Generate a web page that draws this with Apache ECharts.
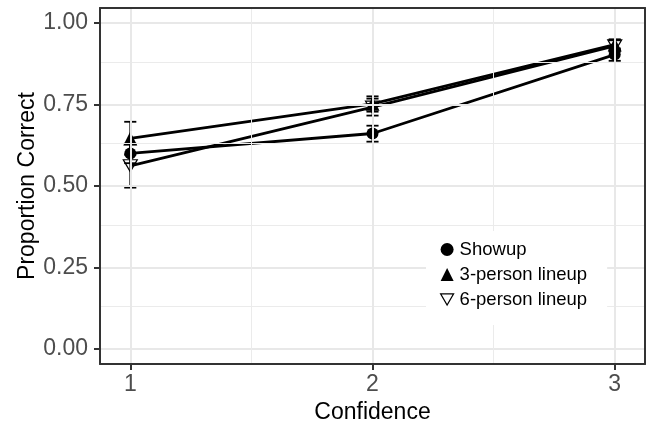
<!DOCTYPE html>
<html>
<head>
<meta charset="utf-8">
<script src="https://cdn.jsdelivr.net/npm/echarts@6/dist/echarts.min.js"></script>
<style>
  html, body { margin: 0; padding: 0; background: #fff; }
  #chart { width: 648px; height: 421px; }
</style>
</head>
<body>
<div id="chart"></div>
<script>
// Confidence levels on the x axis
const confidence = [1, 2, 3];

// Mean proportion correct per lineup type
const showupMean = [0.600, 0.661, 0.903];
const threeMean  = [0.646, 0.752, 0.934];
const sixMean    = [0.562, 0.742, 0.930];

// Error bar bounds (lower / upper)
const showupLow  = [0.570, 0.636, 0.884];
const showupHigh = [0.630, 0.685, 0.922];
const threeLow   = [0.596, 0.728, 0.918];
const threeHigh  = [0.697, 0.775, 0.950];
const sixLow     = [0.495, 0.716, 0.912];
const sixHigh    = [0.628, 0.768, 0.947];

// Axis breaks
const yBreaks = [0, 0.25, 0.5, 0.75, 1];
const yMinorBreaks = [0.125, 0.375, 0.625, 0.875];
const xBreaks = [1, 2, 3];
const xMinorBreaks = [1.5, 2.5];

const FONT = "'Liberation Sans', Arial, Helvetica, sans-serif";
const CAP_HALF = 0.025;          // half width of error bar caps, in x units
const DOWN_TRI = 'path://M0,0L20,0L10,17.32Z';
const X_MIN = 0.875, X_MAX = 3.125;
const Y_MIN = -0.046, Y_MAX = 1.046;

function pairs(xs, ys) { return xs.map((x, i) => [x, ys[i]]); }
function bars(xs, lo, hi) { return xs.map((x, i) => [x, lo[i], hi[i]]); }

function errorBarSeries(name, data) {
  return {
    type: 'custom',
    name: name + ' error',
    z: 3,
    silent: true,
    data: data,
    encode: { x: 0, y: [1, 2] },
    renderItem: function (params, api) {
      const x = api.value(0), lo = api.value(1), hi = api.value(2);
      const pLo = api.coord([x, lo]);
      const pHi = api.coord([x, hi]);
      const l = api.coord([x - CAP_HALF, lo])[0];
      const r = api.coord([x + CAP_HALF, lo])[0];
      const st = { stroke: '#000', lineWidth: 1.8 };
      return {
        type: 'group',
        children: [
          { type: 'line', shape: { x1: pLo[0], y1: pLo[1], x2: pHi[0], y2: pHi[1] }, style: st },
          { type: 'line', shape: { x1: l, y1: pLo[1], x2: r, y2: pLo[1] }, style: st },
          { type: 'line', shape: { x1: l, y1: pHi[1], x2: r, y2: pHi[1] }, style: st }
        ]
      };
    }
  };
}

function lineSeries(name, data, symbol, size, itemStyle) {
  return {
    type: 'line',
    name: name,
    z: 4,
    data: data,
    symbol: symbol,
    symbolSize: size,
    showAllSymbol: true,
    lineStyle: { color: '#000', width: 2.8 },
    itemStyle: itemStyle,
    emphasis: { disabled: true }
  };
}

const GRID_MAJOR = { color: '#e8e8e8', width: 2, type: 'solid' };
const GRID_MINOR = { color: '#ebebeb', width: 1, type: 'solid' };
const gridMarks = [];
yBreaks.forEach(v => gridMarks.push({ yAxis: v, lineStyle: GRID_MAJOR }));
yMinorBreaks.forEach(v => gridMarks.push({ yAxis: v, lineStyle: GRID_MINOR }));
xBreaks.forEach(v => gridMarks.push({ xAxis: v, lineStyle: GRID_MAJOR }));
xMinorBreaks.forEach(v => gridMarks.push({ xAxis: v, lineStyle: GRID_MINOR }));

const BORDER = { color: '#333', width: 2, type: 'solid' };

// axis used only to draw the top / right edges of the panel border
function edgeAxis(pos, min, max) {
  return {
    type: 'value', position: pos, min: min, max: max,
    axisLine: { show: true, onZero: false, lineStyle: BORDER },
    axisTick: { show: false }, axisLabel: { show: false },
    splitLine: { show: false }, z: 6
  };
}

const chart = echarts.init(document.getElementById('chart'), null, { renderer: 'canvas' });

chart.setOption({
  animation: false,
  backgroundColor: '#fff',
  textStyle: { fontFamily: FONT },
  grid: { left: 100, right: 3, top: 8, bottom: 57, containLabel: false, outerBoundsMode: 'none' },
  xAxis: [{
    type: 'value',
    min: X_MIN,
    max: X_MAX,
    position: 'bottom',
    name: 'Confidence',
    nameLocation: 'middle',
    nameGap: 37,
    nameTextStyle: { color: '#000', fontSize: 23, fontFamily: FONT },
    axisLine: { show: true, onZero: false, lineStyle: BORDER },
    axisTick: { show: true, customValues: xBreaks, length: 6, lineStyle: { color: '#333', width: 2 } },
    axisLabel: { customValues: xBreaks, color: '#4d4d4d', fontSize: 23, margin: 9, fontFamily: FONT },
    splitLine: { show: false },
    z: 6
  }, edgeAxis('top', X_MIN, X_MAX)],
  yAxis: [{
    type: 'value',
    min: Y_MIN,
    max: Y_MAX,
    position: 'left',
    name: 'Proportion Correct',
    nameLocation: 'middle',
    nameGap: 61,
    nameMoveOverlap: false,
    nameTextStyle: { color: '#000', fontSize: 23, fontFamily: FONT },
    axisLine: { show: true, onZero: false, lineStyle: BORDER },
    axisTick: { show: true, customValues: yBreaks, length: 6, lineStyle: { color: '#333', width: 2 } },
    axisLabel: {
      customValues: yBreaks, color: '#4d4d4d', fontSize: 23, margin: 12, fontFamily: FONT,
      formatter: v => v.toFixed(2)
    },
    splitLine: { show: false },
    z: 6
  }, edgeAxis('right', Y_MIN, Y_MAX)],
  legend: {
    orient: 'vertical',
    left: 426,
    top: 231,
    z: 20,
    padding: [9, 20, 16, 14],
    backgroundColor: '#fff',
    itemWidth: 13,
    itemHeight: 13,
    itemGap: 6,
    selectedMode: false,
    textStyle: { color: '#000', fontSize: 18.5, fontFamily: FONT, padding: [0, 0, 0, 1] },
    data: [
      { name: 'Showup', icon: 'circle', itemStyle: { color: '#000' } },
      { name: '3-person lineup', icon: 'triangle', itemStyle: { color: '#000' } },
      { name: '6-person lineup', icon: DOWN_TRI,
        itemStyle: { color: 'rgba(0,0,0,0)', borderColor: '#000', borderWidth: 1.2 } }
    ]
  },
  series: [
    {
      type: 'line',
      name: 'gridlines',
      z: 1,
      silent: true,
      data: [],
      markLine: {
        silent: true,
        symbol: ['none', 'none'],
        label: { show: false },
        animation: false,
        emphasis: { disabled: true },
        data: gridMarks
      }
    },
    lineSeries('Showup', pairs(confidence, showupMean), 'circle', 12, { color: '#000' }),
    lineSeries('3-person lineup', pairs(confidence, threeMean), 'triangle', 14, { color: '#000' }),
    lineSeries('6-person lineup', pairs(confidence, sixMean), DOWN_TRI, [14, 12],
      { color: 'rgba(0,0,0,0)', borderColor: '#000', borderWidth: 1.2 }),
    errorBarSeries('Showup', bars(confidence, showupLow, showupHigh)),
    errorBarSeries('3-person lineup', bars(confidence, threeLow, threeHigh)),
    errorBarSeries('6-person lineup', bars(confidence, sixLow, sixHigh))
  ]
});
</script>
</body>
</html>
